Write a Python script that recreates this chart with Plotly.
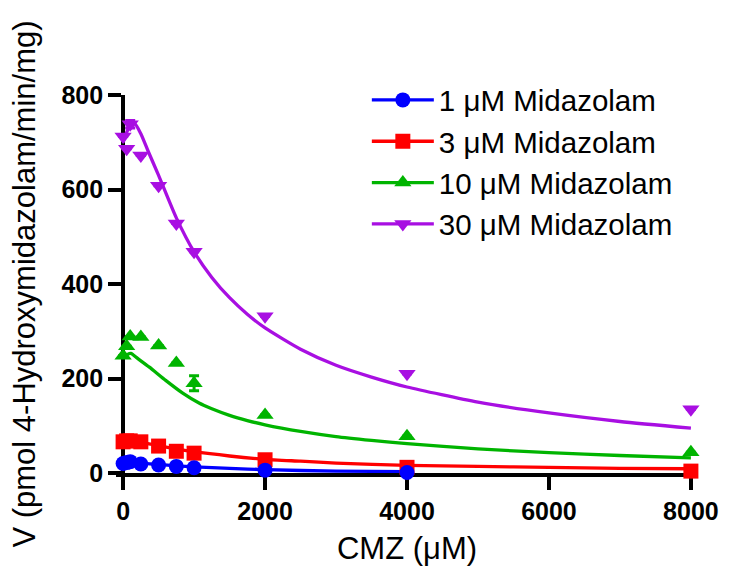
import plotly.graph_objects as go

# ---- data ----
conc = [0, 50, 100, 250, 500, 750, 1000, 2000, 4000, 8000]
conc_1 = [0, 50, 100, 250, 500, 750, 1000, 2000, 4000]

v_1uM = [20, 22, 24, 19, 17, 14, 11, 6, 1]
v_3uM = [66, 68, 68, 66, 57, 46, 42, 28, 12, 4]
v_10uM = [248, 268, 289, 288, 270, 233, 190, 123, 78, 44]
v_30uM = [712, 686, 738, 672, 608, 528, 468, 332, 210, 135]

err_1uM = [0, 0, 0, 0, 0, 0, 0, 0, 0]
err_3uM = [0, 0, 0, 0, 0, 0, 0, 0, 0, 0]
err_10uM = [0, 0, 0, 0, 0, 0, 16, 0, 0, 0]
err_30uM = [0, 0, 8, 0, 0, 0, 0, 0, 0, 0]

# fitted curves
fit_x_1uM = [0, 100, 250, 500, 750, 1000, 1500, 2000, 3000, 4000]
fit_y_1uM = [22, 23, 21, 18, 15, 13, 10, 7, 4, 3]
fit_x_3uM = [0, 100, 250, 500, 750, 1000, 1500, 2000, 2500, 3000, 4000, 5000, 6000, 7000, 8000]
fit_y_3uM = [68, 68, 65, 58, 51, 45, 36, 29, 25, 21, 16, 14, 12, 10, 9]
fit_x_10uM = [0, 60, 110, 200, 370, 600, 840, 1070, 1250, 1500, 1750, 2000, 2500, 3000, 3500, 4000, 5000, 6000, 7000, 8000]
fit_y_10uM = [245, 251, 253, 243, 224, 196, 169, 148, 136, 122, 111, 102, 88, 77, 69, 62, 51, 43, 37, 32]
fit_x_30uM = [0, 80, 160, 250, 350, 500, 750, 1000, 1250, 1500, 1750, 2000, 2500, 3000, 3500, 4000, 5000, 6000, 7000, 8000]
fit_y_30uM = [700, 730, 740, 718, 682, 630, 540, 468, 414, 371, 336, 307, 262, 228, 203, 182, 150, 127, 109, 95]

names = ["1 μM Midazolam", "3 μM Midazolam", "10 μM Midazolam", "30 μM Midazolam"]
colors = ["#0000FF", "#FF0000", "#00B400", "#A80FE2"]
symbols = ["circle", "square", "triangle-up", "triangle-down"]

series = [
    (conc_1, v_1uM, err_1uM, fit_x_1uM, fit_y_1uM),
    (conc, v_3uM, err_3uM, fit_x_3uM, fit_y_3uM),
    (conc, v_10uM, err_10uM, fit_x_10uM, fit_y_10uM),
    (conc, v_30uM, err_30uM, fit_x_30uM, fit_y_30uM),
]

FONT = "Liberation Sans, Arial, sans-serif"

fig = go.Figure()

# curves
for i in [3, 2, 1, 0]:
    xs, ys, es, fx, fy = series[i]
    fig.add_trace(go.Scatter(
        x=fx, y=fy, mode="lines", line=dict(color=colors[i], width=3.3, shape="spline", smoothing=0.6),
        showlegend=False, hoverinfo="skip"))

# markers
for i in [3, 2, 1, 0]:
    xs, ys, es, fx, fy = series[i]
    fig.add_trace(go.Scatter(
        x=xs, y=ys, mode="markers",
        marker=dict(color=colors[i], symbol=symbols[i], size=15, line=dict(width=0)),
        error_y=dict(type="data", array=es, visible=True, color=colors[i], thickness=3, width=5),
        cliponaxis=False, showlegend=False))

# legend entries
for i in range(4):
    fig.add_trace(go.Scatter(
        x=[None], y=[None], mode="lines+markers", name=names[i],
        line=dict(color=colors[i], width=3.3),
        marker=dict(color=colors[i], symbol=symbols[i], size=15)))

fig.update_layout(
    width=731, height=578,
    margin=dict(l=116, r=30, t=95, b=105),
    paper_bgcolor="white", plot_bgcolor="white",
    font=dict(family=FONT, color="black"),
    showlegend=True,
    legend=dict(x=0.431, y=1.055, xanchor="left", yanchor="top",
                font=dict(family=FONT, size=29.5, color="black"),
                bgcolor="rgba(0,0,0,0)", itemwidth=62, tracegroupgap=0),
    xaxis=dict(
        range=[-100, 8100], tickvals=[0, 2000, 4000, 6000, 8000],
        ticks="outside", ticklen=13, tickwidth=4, tickcolor="black",
        showline=True, linewidth=4, linecolor="black",
        showgrid=False, zeroline=False, layer="below traces",
        tickfont=dict(family=FONT, size=25, color="black", weight="bold"),
        title=dict(text="CMZ (μM)", font=dict(family=FONT, size=31, color="black"), standoff=14),
    ),
    yaxis=dict(
        range=[0, 800], tickvals=[0, 200, 400, 600, 800],
        anchor="free", position=100 / 8200,
        ticks="outside", ticklen=13, tickwidth=4, tickcolor="black",
        showline=True, linewidth=4, linecolor="black",
        showgrid=False, zeroline=False, layer="below traces",
        tickfont=dict(family=FONT, size=25, color="black", weight="bold"),
        title=dict(text="V (pmol 4-Hydroxymidazolam/min/mg)", font=dict(family=FONT, size=31, color="black"), standoff=16),
    ),
)

fig.write_html("out.html")
